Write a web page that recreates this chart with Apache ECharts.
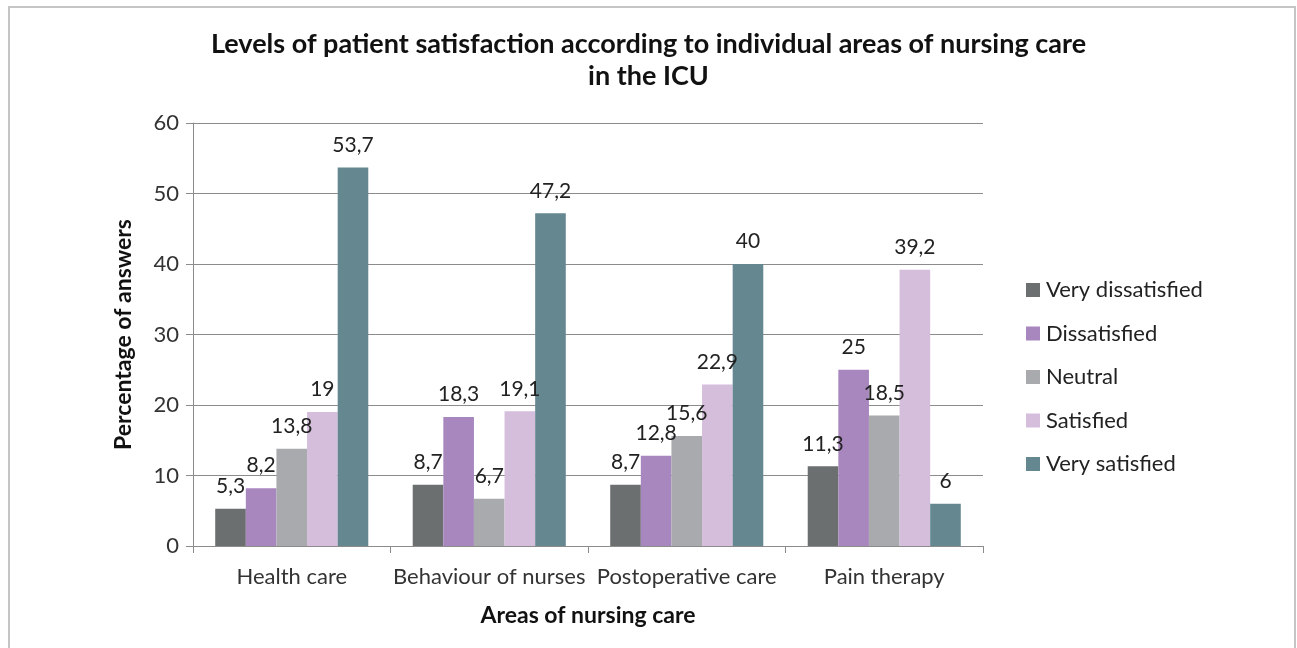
<!DOCTYPE html>
<html>
<head>
<meta charset="utf-8">
<script src="https://cdn.jsdelivr.net/npm/echarts@6/dist/echarts.min.js"></script>
<style>
  html, body { margin: 0; padding: 0; background: #fff; }
  #main { width: 1297px; height: 648px; position: relative; }
  #frame {
    position: absolute; left: 8px; top: 6px; width: 1284px; height: 700px;
    border: 2px solid #c4c4c4; pointer-events: none;
  }
</style>
</head>
<body>
<div id="main"></div>
<div id="frame"></div>
<script>
// 数据
const categories = ["Health care", "Behaviour of nurses", "Postoperative care", "Pain therapy"];
const veryDissatisfied = [5.3, 8.7, 8.7, 11.3];
const dissatisfied = [8.2, 18.3, 12.8, 25];
const neutral = [13.8, 6.7, 15.6, 18.5];
const satisfied = [19, 19.1, 22.9, 39.2];
const verySatisfied = [53.7, 47.2, 40, 6];
const yTicks = [0, 10, 20, 30, 40, 50, 60];

const font = "Lato";
const seriesDefs = [
  { name: "Very dissatisfied", data: veryDissatisfied, color: "#6b6f70" },
  { name: "Dissatisfied", data: dissatisfied, color: "#a886be" },
  { name: "Neutral", data: neutral, color: "#a8aaad" },
  { name: "Satisfied", data: satisfied, color: "#d4bedc" },
  { name: "Very satisfied", data: verySatisfied, color: "#648790" },
];

const titleStyle = { fontFamily: font, fontSize: 27, fontWeight: "bold", color: "#111" };

let myChart = echarts.init(document.getElementById("main"));
myChart.setOption({
  animation: false,
  textStyle: { fontFamily: font },
  title: [
    {
      text: "Levels of patient satisfaction according to individual areas of nursing care",
      left: "center",
      top: 26,
      textStyle: titleStyle,
    },
    {
      text: "in the ICU",
      left: "center",
      top: 58,
      textStyle: titleStyle,
    },
  ],
  legend: {
    orient: "vertical",
    left: 1021,
    top: 274,
    itemWidth: 14,
    itemHeight: 14,
    itemGap: 21.5,
    icon: "rect",
    textStyle: { fontFamily: font, fontSize: 22, color: "#222", lineHeight: 22, padding: [0, 0, 0, 1] },
    data: seriesDefs.map((s) => s.name),
  },
  grid: { left: 193, right: 314, top: 123, bottom: 102 },
  xAxis: {
    type: "category",
    data: categories,
    name: "Areas of nursing care",
    nameLocation: "middle",
    nameGap: 58,
    nameTextStyle: { fontFamily: font, fontSize: 23, fontWeight: "bold", color: "#111" },
    axisLine: { lineStyle: { color: "#8c8c8c", width: 1 } },
    axisTick: { show: true, length: 7, lineStyle: { color: "#8c8c8c" } },
    axisLabel: { interval: 0, fontFamily: font, fontSize: 22, color: "#333", margin: 20 },
  },
  yAxis: {
    type: "value",
    min: 0,
    max: yTicks[yTicks.length - 1],
    interval: 10,
    name: "Percentage of answers",
    nameLocation: "middle",
    nameGap: 58,
    nameTextStyle: { fontFamily: font, fontSize: 23, fontWeight: "bold", color: "#111" },
    axisLine: { show: true, lineStyle: { color: "#8c8c8c", width: 1 } },
    axisTick: { show: true, length: 7, lineStyle: { color: "#8c8c8c" } },
    axisLabel: { fontFamily: font, fontSize: 22, color: "#333", margin: 14 },
    splitLine: { lineStyle: { color: "#8c8c8c", width: 1 } },
  },
  series: seriesDefs.map((s) => ({
    name: s.name,
    type: "bar",
    data: s.data,
    barGap: "0%",
    barCategoryGap: "22.5%",
    itemStyle: { color: s.color },
    label: {
      show: true,
      position: "top",
      distance: 12,
      fontFamily: font,
      fontSize: 21,
      color: "#222",
      formatter: (p) => String(p.value).replace(".", ","),
    },
  })),
});
</script>
</body>
</html>
